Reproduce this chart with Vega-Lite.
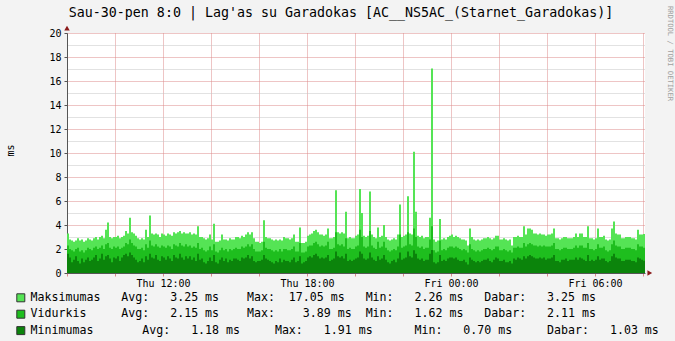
{
  "$schema": "https://vega.github.io/schema/vega-lite/v6.json",
  "width": 578,
  "height": 240,
  "autosize": {"type": "none"},
  "padding": {"left": 67, "top": 33, "right": 30, "bottom": 68},
  "background": "#f3f3f3",
  "title": {
    "text": "Sau-30-pen 8:0 | Lag'as su Garadokas [AC__NS5AC_(Starnet_Garadokas)]",
    "font": "DejaVu Sans Mono", "fontSize": 13.3, "fontWeight": "normal", "color": "#000000",
    "anchor": "middle", "frame": "group", "baseline": "alphabetic", "offset": -24.5, "dx": -15
  },
  "data": {"values": [
    {"t":"2026-01-29T08:00","mx":3.3,"av":2.3,"mn":1.6},{"t":"2026-01-29T08:05","mx":2.8,"av":2.0,"mn":1.3},{"t":"2026-01-29T08:10","mx":2.7,"av":1.9,"mn":0.9},{"t":"2026-01-29T08:15","mx":2.6,"av":1.8,"mn":1.1},{"t":"2026-01-29T08:20","mx":2.7,"av":2.0,"mn":1.4},{"t":"2026-01-29T08:25","mx":2.9,"av":2.1,"mn":1.0},{"t":"2026-01-29T08:30","mx":2.7,"av":1.8,"mn":0.8},{"t":"2026-01-29T08:35","mx":2.8,"av":1.9,"mn":1.2},{"t":"2026-01-29T08:40","mx":2.6,"av":1.7,"mn":0.9},{"t":"2026-01-29T08:45","mx":2.7,"av":1.9,"mn":1.1},{"t":"2026-01-29T08:50","mx":2.9,"av":2.1,"mn":1.3},{"t":"2026-01-29T08:55","mx":2.8,"av":2.0,"mn":1.0},
    {"t":"2026-01-29T09:00","mx":2.7,"av":1.9,"mn":1.1},{"t":"2026-01-29T09:05","mx":2.9,"av":2.1,"mn":1.3},{"t":"2026-01-29T09:10","mx":3.0,"av":2.2,"mn":1.5},{"t":"2026-01-29T09:15","mx":2.8,"av":2.0,"mn":1.0},{"t":"2026-01-29T09:20","mx":3.0,"av":2.1,"mn":1.2},{"t":"2026-01-29T09:25","mx":3.1,"av":2.3,"mn":1.6},{"t":"2026-01-29T09:30","mx":2.9,"av":2.0,"mn":1.1},{"t":"2026-01-29T09:35","mx":3.6,"av":2.4,"mn":1.4},{"t":"2026-01-29T09:40","mx":4.2,"av":2.5,"mn":1.5},{"t":"2026-01-29T09:45","mx":3.0,"av":2.1,"mn":1.2},{"t":"2026-01-29T09:50","mx":2.9,"av":2.0,"mn":0.9},{"t":"2026-01-29T09:55","mx":3.0,"av":2.2,"mn":1.3},
    {"t":"2026-01-29T10:00","mx":3.0,"av":2.1,"mn":1.2},{"t":"2026-01-29T10:05","mx":3.1,"av":2.2,"mn":1.4},{"t":"2026-01-29T10:10","mx":2.9,"av":2.0,"mn":1.0},{"t":"2026-01-29T10:15","mx":3.0,"av":2.1,"mn":1.3},{"t":"2026-01-29T10:20","mx":3.1,"av":2.2,"mn":1.5},{"t":"2026-01-29T10:25","mx":3.5,"av":2.5,"mn":1.6},{"t":"2026-01-29T10:30","mx":3.3,"av":2.4,"mn":1.4},{"t":"2026-01-29T10:35","mx":4.6,"av":2.8,"mn":1.7},{"t":"2026-01-29T10:40","mx":3.4,"av":2.5,"mn":1.5},{"t":"2026-01-29T10:45","mx":3.3,"av":2.3,"mn":1.3},{"t":"2026-01-29T10:50","mx":3.1,"av":2.2,"mn":1.1},{"t":"2026-01-29T10:55","mx":2.9,"av":2.0,"mn":0.9},
    {"t":"2026-01-29T11:00","mx":2.8,"av":2.0,"mn":1.0},{"t":"2026-01-29T11:05","mx":2.9,"av":2.1,"mn":1.2},{"t":"2026-01-29T11:10","mx":2.8,"av":1.9,"mn":0.9},{"t":"2026-01-29T11:15","mx":3.6,"av":2.4,"mn":1.4},{"t":"2026-01-29T11:20","mx":3.0,"av":2.1,"mn":1.1},{"t":"2026-01-29T11:25","mx":4.8,"av":2.7,"mn":1.6},{"t":"2026-01-29T11:30","mx":3.3,"av":2.3,"mn":1.3},{"t":"2026-01-29T11:35","mx":3.2,"av":2.2,"mn":1.2},{"t":"2026-01-29T11:40","mx":3.3,"av":2.4,"mn":1.5},{"t":"2026-01-29T11:45","mx":3.2,"av":2.2,"mn":1.1},{"t":"2026-01-29T11:50","mx":3.0,"av":2.1,"mn":1.0},{"t":"2026-01-29T11:55","mx":3.3,"av":2.3,"mn":1.4},
    {"t":"2026-01-29T12:00","mx":3.2,"av":2.2,"mn":1.3},{"t":"2026-01-29T12:05","mx":3.1,"av":2.1,"mn":1.1},{"t":"2026-01-29T12:10","mx":3.3,"av":2.3,"mn":1.4},{"t":"2026-01-29T12:15","mx":3.2,"av":2.2,"mn":1.2},{"t":"2026-01-29T12:20","mx":3.1,"av":2.0,"mn":1.0},{"t":"2026-01-29T12:25","mx":3.4,"av":2.4,"mn":1.5},{"t":"2026-01-29T12:30","mx":3.3,"av":2.3,"mn":1.3},{"t":"2026-01-29T12:35","mx":3.4,"av":2.2,"mn":1.2},{"t":"2026-01-29T12:40","mx":3.5,"av":2.5,"mn":1.6},{"t":"2026-01-29T12:45","mx":3.3,"av":2.3,"mn":1.3},{"t":"2026-01-29T12:50","mx":3.4,"av":2.2,"mn":1.1},{"t":"2026-01-29T12:55","mx":3.3,"av":2.4,"mn":1.4},
    {"t":"2026-01-29T13:00","mx":3.3,"av":2.2,"mn":1.2},{"t":"2026-01-29T13:05","mx":3.4,"av":2.3,"mn":1.4},{"t":"2026-01-29T13:10","mx":3.2,"av":2.1,"mn":1.1},{"t":"2026-01-29T13:15","mx":3.3,"av":2.2,"mn":1.3},{"t":"2026-01-29T13:20","mx":3.2,"av":2.1,"mn":1.0},{"t":"2026-01-29T13:25","mx":3.9,"av":2.5,"mn":1.6},{"t":"2026-01-29T13:30","mx":3.0,"av":2.0,"mn":1.1},{"t":"2026-01-29T13:35","mx":3.0,"av":2.1,"mn":1.2},{"t":"2026-01-29T13:40","mx":2.9,"av":1.9,"mn":0.9},{"t":"2026-01-29T13:45","mx":2.8,"av":1.8,"mn":0.8},{"t":"2026-01-29T13:50","mx":2.9,"av":1.9,"mn":1.0},{"t":"2026-01-29T13:55","mx":3.2,"av":2.2,"mn":1.3},
    {"t":"2026-01-29T14:00","mx":2.8,"av":1.9,"mn":1.0},{"t":"2026-01-29T14:05","mx":4.1,"av":2.4,"mn":1.5},{"t":"2026-01-29T14:10","mx":2.6,"av":1.8,"mn":0.9},{"t":"2026-01-29T14:15","mx":2.6,"av":1.7,"mn":0.8},{"t":"2026-01-29T14:20","mx":2.7,"av":1.9,"mn":1.1},{"t":"2026-01-29T14:25","mx":3.2,"av":2.1,"mn":1.3},{"t":"2026-01-29T14:30","mx":2.8,"av":1.9,"mn":1.0},{"t":"2026-01-29T14:35","mx":2.8,"av":2.0,"mn":1.2},{"t":"2026-01-29T14:40","mx":2.7,"av":1.8,"mn":0.9},{"t":"2026-01-29T14:45","mx":2.9,"av":2.0,"mn":1.1},{"t":"2026-01-29T14:50","mx":2.8,"av":1.9,"mn":1.0},{"t":"2026-01-29T14:55","mx":2.8,"av":2.0,"mn":1.2},
    {"t":"2026-01-29T15:00","mx":3.0,"av":2.1,"mn":1.2},{"t":"2026-01-29T15:05","mx":3.0,"av":2.0,"mn":1.1},{"t":"2026-01-29T15:10","mx":2.9,"av":2.0,"mn":1.0},{"t":"2026-01-29T15:15","mx":3.1,"av":2.2,"mn":1.3},{"t":"2026-01-29T15:20","mx":3.0,"av":2.1,"mn":1.2},{"t":"2026-01-29T15:25","mx":3.2,"av":2.2,"mn":1.3},{"t":"2026-01-29T15:30","mx":3.4,"av":2.4,"mn":1.5},{"t":"2026-01-29T15:35","mx":3.2,"av":2.2,"mn":1.2},{"t":"2026-01-29T15:40","mx":3.4,"av":2.4,"mn":1.4},{"t":"2026-01-29T15:45","mx":2.9,"av":2.0,"mn":1.0},{"t":"2026-01-29T15:50","mx":2.6,"av":1.8,"mn":0.9},{"t":"2026-01-29T15:55","mx":2.6,"av":1.8,"mn":1.0},
    {"t":"2026-01-29T16:00","mx":2.5,"av":1.8,"mn":1.0},{"t":"2026-01-29T16:05","mx":2.6,"av":1.9,"mn":1.1},{"t":"2026-01-29T16:10","mx":4.4,"av":2.6,"mn":1.5},{"t":"2026-01-29T16:15","mx":3.0,"av":2.1,"mn":1.2},{"t":"2026-01-29T16:20","mx":2.9,"av":2.0,"mn":1.1},{"t":"2026-01-29T16:25","mx":2.9,"av":2.0,"mn":1.0},{"t":"2026-01-29T16:30","mx":2.8,"av":1.9,"mn":0.9},{"t":"2026-01-29T16:35","mx":2.7,"av":1.8,"mn":0.8},{"t":"2026-01-29T16:40","mx":2.8,"av":1.9,"mn":1.0},{"t":"2026-01-29T16:45","mx":2.7,"av":1.8,"mn":0.9},{"t":"2026-01-29T16:50","mx":2.8,"av":2.0,"mn":1.2},{"t":"2026-01-29T16:55","mx":2.7,"av":1.8,"mn":0.9},
    {"t":"2026-01-29T17:00","mx":3.0,"av":2.0,"mn":1.1},{"t":"2026-01-29T17:05","mx":2.9,"av":2.0,"mn":1.0},{"t":"2026-01-29T17:10","mx":2.9,"av":1.9,"mn":1.0},{"t":"2026-01-29T17:15","mx":2.8,"av":1.9,"mn":0.9},{"t":"2026-01-29T17:20","mx":2.9,"av":2.0,"mn":1.1},{"t":"2026-01-29T17:25","mx":3.2,"av":2.2,"mn":1.3},{"t":"2026-01-29T17:30","mx":2.6,"av":1.8,"mn":0.9},{"t":"2026-01-29T17:35","mx":2.6,"av":1.8,"mn":1.0},{"t":"2026-01-29T17:40","mx":3.8,"av":2.5,"mn":1.4},{"t":"2026-01-29T17:45","mx":2.5,"av":1.7,"mn":0.8},{"t":"2026-01-29T17:50","mx":2.5,"av":1.7,"mn":0.9},{"t":"2026-01-29T17:55","mx":2.6,"av":1.8,"mn":1.0},
    {"t":"2026-01-29T18:00","mx":3.1,"av":2.2,"mn":1.3},{"t":"2026-01-29T18:05","mx":3.2,"av":2.3,"mn":1.4},{"t":"2026-01-29T18:10","mx":3.3,"av":2.3,"mn":1.3},{"t":"2026-01-29T18:15","mx":3.5,"av":2.5,"mn":1.5},{"t":"2026-01-29T18:20","mx":3.6,"av":2.6,"mn":1.6},{"t":"2026-01-29T18:25","mx":3.4,"av":2.4,"mn":1.4},{"t":"2026-01-29T18:30","mx":3.2,"av":2.2,"mn":1.2},{"t":"2026-01-29T18:35","mx":3.2,"av":2.3,"mn":1.3},{"t":"2026-01-29T18:40","mx":3.1,"av":2.2,"mn":1.2},{"t":"2026-01-29T18:45","mx":3.2,"av":2.3,"mn":1.3},{"t":"2026-01-29T18:50","mx":3.7,"av":2.6,"mn":1.5},{"t":"2026-01-29T18:55","mx":2.9,"av":2.0,"mn":1.0},
    {"t":"2026-01-29T19:00","mx":2.9,"av":2.0,"mn":1.1},{"t":"2026-01-29T19:05","mx":3.0,"av":2.1,"mn":1.2},{"t":"2026-01-29T19:10","mx":6.9,"av":3.4,"mn":1.8},{"t":"2026-01-29T19:15","mx":3.4,"av":2.4,"mn":1.4},{"t":"2026-01-29T19:20","mx":3.3,"av":2.3,"mn":1.3},{"t":"2026-01-29T19:25","mx":3.4,"av":2.4,"mn":1.4},{"t":"2026-01-29T19:30","mx":3.3,"av":2.2,"mn":1.2},{"t":"2026-01-29T19:35","mx":5.1,"av":2.9,"mn":1.6},{"t":"2026-01-29T19:40","mx":2.9,"av":2.0,"mn":1.0},{"t":"2026-01-29T19:45","mx":3.0,"av":2.1,"mn":1.1},{"t":"2026-01-29T19:50","mx":2.9,"av":2.0,"mn":1.0},{"t":"2026-01-29T19:55","mx":2.9,"av":2.0,"mn":1.1},
    {"t":"2026-01-29T20:00","mx":3.1,"av":2.2,"mn":1.2},{"t":"2026-01-29T20:05","mx":3.2,"av":2.3,"mn":1.3},{"t":"2026-01-29T20:10","mx":7.0,"av":3.6,"mn":1.8},{"t":"2026-01-29T20:15","mx":5.0,"av":3.0,"mn":1.6},{"t":"2026-01-29T20:20","mx":3.1,"av":2.2,"mn":1.2},{"t":"2026-01-29T20:25","mx":3.0,"av":2.1,"mn":1.1},{"t":"2026-01-29T20:30","mx":3.1,"av":2.2,"mn":1.2},{"t":"2026-01-29T20:35","mx":6.8,"av":3.5,"mn":1.7},{"t":"2026-01-29T20:40","mx":3.2,"av":2.3,"mn":1.3},{"t":"2026-01-29T20:45","mx":3.0,"av":2.1,"mn":1.1},{"t":"2026-01-29T20:50","mx":2.9,"av":2.0,"mn":1.0},{"t":"2026-01-29T20:55","mx":3.8,"av":2.6,"mn":1.4},
    {"t":"2026-01-29T21:00","mx":3.0,"av":2.1,"mn":1.1},{"t":"2026-01-29T21:05","mx":3.1,"av":2.2,"mn":1.2},{"t":"2026-01-29T21:10","mx":4.0,"av":2.6,"mn":1.5},{"t":"2026-01-29T21:15","mx":3.0,"av":2.1,"mn":1.1},{"t":"2026-01-29T21:20","mx":2.8,"av":1.9,"mn":0.9},{"t":"2026-01-29T21:25","mx":2.7,"av":1.8,"mn":0.8},{"t":"2026-01-29T21:30","mx":2.8,"av":1.9,"mn":1.0},{"t":"2026-01-29T21:35","mx":2.9,"av":2.0,"mn":1.1},{"t":"2026-01-29T21:40","mx":2.8,"av":1.9,"mn":0.9},{"t":"2026-01-29T21:45","mx":3.2,"av":2.2,"mn":1.2},{"t":"2026-01-29T21:50","mx":5.7,"av":3.2,"mn":1.7},{"t":"2026-01-29T21:55","mx":3.0,"av":2.1,"mn":1.1},
    {"t":"2026-01-29T22:00","mx":3.1,"av":2.2,"mn":1.2},{"t":"2026-01-29T22:05","mx":3.2,"av":2.3,"mn":1.3},{"t":"2026-01-29T22:10","mx":6.4,"av":3.4,"mn":1.8},{"t":"2026-01-29T22:15","mx":3.3,"av":2.4,"mn":1.4},{"t":"2026-01-29T22:20","mx":3.2,"av":2.3,"mn":1.3},{"t":"2026-01-29T22:25","mx":10.1,"av":3.7,"mn":1.9},{"t":"2026-01-29T22:30","mx":5.1,"av":3.0,"mn":1.6},{"t":"2026-01-29T22:35","mx":3.1,"av":2.2,"mn":1.2},{"t":"2026-01-29T22:40","mx":3.0,"av":2.1,"mn":1.1},{"t":"2026-01-29T22:45","mx":3.1,"av":2.2,"mn":1.2},{"t":"2026-01-29T22:50","mx":2.9,"av":2.0,"mn":1.0},{"t":"2026-01-29T22:55","mx":3.0,"av":2.1,"mn":1.1},
    {"t":"2026-01-29T23:00","mx":3.0,"av":2.1,"mn":1.1},{"t":"2026-01-29T23:05","mx":4.6,"av":2.8,"mn":1.6},{"t":"2026-01-29T23:10","mx":17.05,"av":3.89,"mn":1.91},{"t":"2026-01-29T23:15","mx":2.8,"av":1.9,"mn":0.9},{"t":"2026-01-29T23:20","mx":2.6,"av":1.7,"mn":0.8},{"t":"2026-01-29T23:25","mx":2.7,"av":1.8,"mn":0.9},{"t":"2026-01-29T23:30","mx":4.5,"av":2.7,"mn":1.5},{"t":"2026-01-29T23:35","mx":2.8,"av":1.9,"mn":1.0},{"t":"2026-01-29T23:40","mx":2.9,"av":2.0,"mn":1.1},{"t":"2026-01-29T23:45","mx":2.8,"av":1.9,"mn":1.0},{"t":"2026-01-29T23:50","mx":3.0,"av":2.1,"mn":1.2},{"t":"2026-01-29T23:55","mx":3.1,"av":2.2,"mn":1.3},
    {"t":"2026-01-30T00:00","mx":3.2,"av":2.2,"mn":1.3},{"t":"2026-01-30T00:05","mx":3.0,"av":2.1,"mn":1.2},{"t":"2026-01-30T00:10","mx":3.1,"av":2.2,"mn":1.3},{"t":"2026-01-30T00:15","mx":3.0,"av":2.1,"mn":1.1},{"t":"2026-01-30T00:20","mx":2.9,"av":2.0,"mn":1.0},{"t":"2026-01-30T00:25","mx":2.8,"av":1.9,"mn":1.0},{"t":"2026-01-30T00:30","mx":2.8,"av":2.0,"mn":1.1},{"t":"2026-01-30T00:35","mx":2.7,"av":1.9,"mn":0.9},{"t":"2026-01-30T00:40","mx":2.3,"av":1.7,"mn":0.7},{"t":"2026-01-30T00:45","mx":3.7,"av":2.4,"mn":1.3},{"t":"2026-01-30T00:50","mx":3.0,"av":2.0,"mn":1.1},{"t":"2026-01-30T00:55","mx":2.8,"av":1.9,"mn":1.0},
    {"t":"2026-01-30T01:00","mx":2.7,"av":1.8,"mn":0.9},{"t":"2026-01-30T01:05","mx":2.8,"av":1.9,"mn":1.0},{"t":"2026-01-30T01:10","mx":2.7,"av":1.8,"mn":0.9},{"t":"2026-01-30T01:15","mx":2.8,"av":1.9,"mn":1.0},{"t":"2026-01-30T01:20","mx":2.9,"av":2.0,"mn":1.1},{"t":"2026-01-30T01:25","mx":2.9,"av":2.0,"mn":1.1},{"t":"2026-01-30T01:30","mx":3.0,"av":2.1,"mn":1.2},{"t":"2026-01-30T01:35","mx":2.9,"av":2.0,"mn":1.0},{"t":"2026-01-30T01:40","mx":2.8,"av":1.9,"mn":0.9},{"t":"2026-01-30T01:45","mx":2.9,"av":2.0,"mn":1.1},{"t":"2026-01-30T01:50","mx":3.1,"av":2.2,"mn":1.3},{"t":"2026-01-30T01:55","mx":3.1,"av":2.2,"mn":1.2},
    {"t":"2026-01-30T02:00","mx":2.8,"av":1.9,"mn":1.0},{"t":"2026-01-30T02:05","mx":2.8,"av":1.9,"mn":1.0},{"t":"2026-01-30T02:10","mx":2.9,"av":2.0,"mn":1.1},{"t":"2026-01-30T02:15","mx":2.8,"av":1.9,"mn":0.9},{"t":"2026-01-30T02:20","mx":2.7,"av":1.8,"mn":0.9},{"t":"2026-01-30T02:25","mx":2.8,"av":1.9,"mn":1.0},{"t":"2026-01-30T02:30","mx":2.3,"av":1.7,"mn":0.8},{"t":"2026-01-30T02:35","mx":3.0,"av":2.1,"mn":1.2},{"t":"2026-01-30T02:40","mx":3.0,"av":2.1,"mn":1.1},{"t":"2026-01-30T02:45","mx":3.1,"av":2.2,"mn":1.3},{"t":"2026-01-30T02:50","mx":3.0,"av":2.1,"mn":1.2},{"t":"2026-01-30T02:55","mx":3.0,"av":2.1,"mn":1.1},
    {"t":"2026-01-30T03:00","mx":3.9,"av":2.5,"mn":1.4},{"t":"2026-01-30T03:05","mx":3.2,"av":2.2,"mn":1.2},{"t":"2026-01-30T03:10","mx":3.7,"av":2.4,"mn":1.4},{"t":"2026-01-30T03:15","mx":3.7,"av":2.5,"mn":1.5},{"t":"2026-01-30T03:20","mx":3.6,"av":2.4,"mn":1.4},{"t":"2026-01-30T03:25","mx":3.3,"av":2.3,"mn":1.3},{"t":"2026-01-30T03:30","mx":3.3,"av":2.3,"mn":1.2},{"t":"2026-01-30T03:35","mx":3.2,"av":2.2,"mn":1.2},{"t":"2026-01-30T03:40","mx":3.3,"av":2.3,"mn":1.3},{"t":"2026-01-30T03:45","mx":3.2,"av":2.2,"mn":1.2},{"t":"2026-01-30T03:50","mx":3.2,"av":2.3,"mn":1.3},{"t":"2026-01-30T03:55","mx":3.1,"av":2.2,"mn":1.1},
    {"t":"2026-01-30T04:00","mx":3.2,"av":2.2,"mn":1.2},{"t":"2026-01-30T04:05","mx":3.2,"av":2.2,"mn":1.2},{"t":"2026-01-30T04:10","mx":3.3,"av":2.3,"mn":1.3},{"t":"2026-01-30T04:15","mx":3.7,"av":2.5,"mn":1.5},{"t":"2026-01-30T04:20","mx":2.9,"av":2.0,"mn":1.0},{"t":"2026-01-30T04:25","mx":2.9,"av":2.0,"mn":1.0},{"t":"2026-01-30T04:30","mx":2.8,"av":1.9,"mn":0.9},{"t":"2026-01-30T04:35","mx":2.9,"av":2.0,"mn":1.1},{"t":"2026-01-30T04:40","mx":3.0,"av":2.1,"mn":1.1},{"t":"2026-01-30T04:45","mx":3.0,"av":2.1,"mn":1.2},{"t":"2026-01-30T04:50","mx":2.9,"av":2.0,"mn":1.0},{"t":"2026-01-30T04:55","mx":2.9,"av":2.0,"mn":1.1},
    {"t":"2026-01-30T05:00","mx":2.9,"av":2.0,"mn":1.1},{"t":"2026-01-30T05:05","mx":3.0,"av":2.1,"mn":1.1},{"t":"2026-01-30T05:10","mx":3.3,"av":2.3,"mn":1.3},{"t":"2026-01-30T05:15","mx":3.0,"av":2.1,"mn":1.1},{"t":"2026-01-30T05:20","mx":3.3,"av":2.3,"mn":1.3},{"t":"2026-01-30T05:25","mx":3.3,"av":2.3,"mn":1.2},{"t":"2026-01-30T05:30","mx":3.0,"av":2.1,"mn":1.1},{"t":"2026-01-30T05:35","mx":3.0,"av":2.1,"mn":1.0},{"t":"2026-01-30T05:40","mx":3.9,"av":2.5,"mn":1.5},{"t":"2026-01-30T05:45","mx":2.9,"av":2.0,"mn":1.0},{"t":"2026-01-30T05:50","mx":2.9,"av":2.0,"mn":1.1},{"t":"2026-01-30T05:55","mx":2.8,"av":1.9,"mn":1.0},
    {"t":"2026-01-30T06:00","mx":2.9,"av":2.0,"mn":1.1},{"t":"2026-01-30T06:05","mx":3.7,"av":2.4,"mn":1.4},{"t":"2026-01-30T06:10","mx":3.0,"av":2.1,"mn":1.1},{"t":"2026-01-30T06:15","mx":3.0,"av":2.1,"mn":1.2},{"t":"2026-01-30T06:20","mx":3.1,"av":2.2,"mn":1.2},{"t":"2026-01-30T06:25","mx":2.8,"av":1.9,"mn":1.0},{"t":"2026-01-30T06:30","mx":2.7,"av":1.8,"mn":0.9},{"t":"2026-01-30T06:35","mx":2.8,"av":1.9,"mn":1.0},{"t":"2026-01-30T06:40","mx":3.7,"av":2.4,"mn":1.4},{"t":"2026-01-30T06:45","mx":4.3,"av":2.7,"mn":1.6},{"t":"2026-01-30T06:50","mx":3.3,"av":2.3,"mn":1.3},{"t":"2026-01-30T06:55","mx":3.2,"av":2.2,"mn":1.2},
    {"t":"2026-01-30T07:00","mx":3.2,"av":2.2,"mn":1.2},{"t":"2026-01-30T07:05","mx":2.9,"av":2.0,"mn":1.0},{"t":"2026-01-30T07:10","mx":2.9,"av":2.0,"mn":1.0},{"t":"2026-01-30T07:15","mx":3.0,"av":2.1,"mn":1.1},{"t":"2026-01-30T07:20","mx":3.0,"av":2.1,"mn":1.1},{"t":"2026-01-30T07:25","mx":3.0,"av":2.1,"mn":1.1},{"t":"2026-01-30T07:30","mx":2.9,"av":2.0,"mn":1.0},{"t":"2026-01-30T07:35","mx":2.9,"av":2.0,"mn":1.0},{"t":"2026-01-30T07:40","mx":2.8,"av":1.9,"mn":0.9},{"t":"2026-01-30T07:45","mx":3.6,"av":2.4,"mn":1.3},{"t":"2026-01-30T07:50","mx":3.2,"av":2.2,"mn":1.2},{"t":"2026-01-30T07:55","mx":3.2,"av":2.2,"mn":1.1},
    {"t":"2026-01-30T08:00","mx":3.25,"av":2.11,"mn":1.03},{"t":"2026-01-30T08:05","mx":3.25,"av":2.11,"mn":1.03}
  ]},
  "layer": [
    {
      "mark": {"type": "area", "interpolate": "step-after", "opacity": 1},
      "encoding": {
        "x": {
          "field": "t", "type": "temporal",
          "scale": {"domain": [{"year": 2026, "month": "jan", "date": 29, "hours": 8}, {"year": 2026, "month": "jan", "date": 30, "hours": 8, "minutes": 5}]},
          "axis": {
            "title": null,
            "values": [
              {"year":2026,"month":"jan","date":29,"hours":8,"minutes":0},{"year":2026,"month":"jan","date":29,"hours":8,"minutes":30},
              {"year":2026,"month":"jan","date":29,"hours":9,"minutes":0},{"year":2026,"month":"jan","date":29,"hours":9,"minutes":30},
              {"year":2026,"month":"jan","date":29,"hours":10,"minutes":0},{"year":2026,"month":"jan","date":29,"hours":10,"minutes":30},
              {"year":2026,"month":"jan","date":29,"hours":11,"minutes":0},{"year":2026,"month":"jan","date":29,"hours":11,"minutes":30},
              {"year":2026,"month":"jan","date":29,"hours":12,"minutes":0},{"year":2026,"month":"jan","date":29,"hours":12,"minutes":30},
              {"year":2026,"month":"jan","date":29,"hours":13,"minutes":0},{"year":2026,"month":"jan","date":29,"hours":13,"minutes":30},
              {"year":2026,"month":"jan","date":29,"hours":14,"minutes":0},{"year":2026,"month":"jan","date":29,"hours":14,"minutes":30},
              {"year":2026,"month":"jan","date":29,"hours":15,"minutes":0},{"year":2026,"month":"jan","date":29,"hours":15,"minutes":30},
              {"year":2026,"month":"jan","date":29,"hours":16,"minutes":0},{"year":2026,"month":"jan","date":29,"hours":16,"minutes":30},
              {"year":2026,"month":"jan","date":29,"hours":17,"minutes":0},{"year":2026,"month":"jan","date":29,"hours":17,"minutes":30},
              {"year":2026,"month":"jan","date":29,"hours":18,"minutes":0},{"year":2026,"month":"jan","date":29,"hours":18,"minutes":30},
              {"year":2026,"month":"jan","date":29,"hours":19,"minutes":0},{"year":2026,"month":"jan","date":29,"hours":19,"minutes":30},
              {"year":2026,"month":"jan","date":29,"hours":20,"minutes":0},{"year":2026,"month":"jan","date":29,"hours":20,"minutes":30},
              {"year":2026,"month":"jan","date":29,"hours":21,"minutes":0},{"year":2026,"month":"jan","date":29,"hours":21,"minutes":30},
              {"year":2026,"month":"jan","date":29,"hours":22,"minutes":0},{"year":2026,"month":"jan","date":29,"hours":22,"minutes":30},
              {"year":2026,"month":"jan","date":29,"hours":23,"minutes":0},{"year":2026,"month":"jan","date":29,"hours":23,"minutes":30},
              {"year":2026,"month":"jan","date":30,"hours":0,"minutes":0},{"year":2026,"month":"jan","date":30,"hours":0,"minutes":30},
              {"year":2026,"month":"jan","date":30,"hours":1,"minutes":0},{"year":2026,"month":"jan","date":30,"hours":1,"minutes":30},
              {"year":2026,"month":"jan","date":30,"hours":2,"minutes":0},{"year":2026,"month":"jan","date":30,"hours":2,"minutes":30},
              {"year":2026,"month":"jan","date":30,"hours":3,"minutes":0},{"year":2026,"month":"jan","date":30,"hours":3,"minutes":30},
              {"year":2026,"month":"jan","date":30,"hours":4,"minutes":0},{"year":2026,"month":"jan","date":30,"hours":4,"minutes":30},
              {"year":2026,"month":"jan","date":30,"hours":5,"minutes":0},{"year":2026,"month":"jan","date":30,"hours":5,"minutes":30},
              {"year":2026,"month":"jan","date":30,"hours":6,"minutes":0},{"year":2026,"month":"jan","date":30,"hours":6,"minutes":30},
              {"year":2026,"month":"jan","date":30,"hours":7,"minutes":0},{"year":2026,"month":"jan","date":30,"hours":7,"minutes":30},
              {"year":2026,"month":"jan","date":30,"hours":8,"minutes":0}
            ],
            "labelExpr": "minutes(datum.value) == 0 && hours(datum.value) % 6 == 0 ? timeFormat(datum.value, '%a %H:%M') : ''",
            "labelOverlap": false, "labelFlush": false, "labelBound": false,
            "labelFont": "DejaVu Sans Mono", "labelFontSize": 10, "labelColor": "#000000", "labelPadding": 2,
            "domainColor": "#555555",
            "tickSize": 3,
            "tickColor": {"condition": {"test": "minutes(datum.value) == 0 && hours(datum.value) % 2 == 0", "value": "#d98a8a"}, "value": "#c4c4c4"},
            "grid": true,
            "gridDash": [1, 1],
            "gridColor": {"condition": {"test": "minutes(datum.value) == 0 && hours(datum.value) % 2 == 0", "value": "#dc8a8a"}, "value": "#c4c4c4"}
          }
        },
        "y": {
          "field": "mx", "type": "quantitative",
          "scale": {"domain": [0, 20], "nice": false},
          "axis": {
            "title": "ms", "titleX": -57, "titleY": 117, "titleAngle": -90, "titleAlign": "center", "titleBaseline": "middle",
            "titleFont": "DejaVu Sans Mono", "titleFontSize": 10, "titleFontWeight": "normal", "titleColor": "#000000",
            "values": [0,0.5,1,1.5,2,2.5,3,3.5,4,4.5,5,5.5,6,6.5,7,7.5,8,8.5,9,9.5,10,10.5,11,11.5,12,12.5,13,13.5,14,14.5,15,15.5,16,16.5,17,17.5,18,18.5,19,19.5,20],
            "format": "d",
            "labelExpr": "datum.value % 2 == 0 ? datum.label : ''",
            "labelOverlap": false, "labelFont": "DejaVu Sans Mono", "labelFontSize": 10, "labelColor": "#000000", "labelPadding": 3,
            "domainColor": "#555555",
            "tickSize": 3,
            "tickColor": {"condition": {"test": "datum.value % 2 == 0", "value": "#555555"}, "value": "transparent"},
            "grid": true,
            "gridDash": [1, 1],
            "gridColor": {"condition": {"test": "datum.value % 2 == 0", "value": "#dc8a8a"}, "value": "#c4c4c4"}
          }
        },
        "color": {
          "datum": "Maksimumas",
          "scale": {"domain": ["Maksimumas", "Vidurkis", "Minimumas"], "range": ["#55e455", "#1ebe1e", "#0b840b"]},
          "legend": {
            "title": null, "orient": "none", "legendX": -52, "legendY": 259, "direction": "vertical",
            "padding": 0, "symbolType": "square", "symbolSize": 64, "symbolStrokeColor": "#333333", "symbolStrokeWidth": 1, "symbolOpacity": 1,
            "labelFont": "DejaVu Sans Mono", "labelFontSize": 11.6, "labelColor": "#000000", "labelLimit": 1000, "labelOffset": 4, "rowPadding": 3.4,
            "labelExpr": "replace(datum.label == 'Maksimumas' ? 'Maksimumas~~~Avg:~~~3.25~ms~~~~Max:~~17.05~ms~~~Min:~~~2.26~ms~~~Dabar:~~~3.25~ms' : datum.label == 'Vidurkis' ? 'Vidurkis~~~~~Avg:~~~2.15~ms~~~~Max:~~~~3.89~ms~~Min:~~~1.62~ms~~~Dabar:~~~2.11~ms' : 'Minimumas~~~~~~~Avg:~~~1.18~ms~~~~~Max:~~~1.91~ms~~~~~~Min:~~~0.70~ms~~~~~Dabar:~~~1.03~ms', regexp('~', 'g'), '\u00a0')"
          }
        }
      }
    },
    {
      "mark": {"type": "area", "interpolate": "step-after", "opacity": 1},
      "encoding": {
        "x": {"field": "t", "type": "temporal"},
        "y": {
          "field": "av", "type": "quantitative",
          "axis": {
            "orient": "right", "labels": false, "ticks": false, "domain": false, "grid": false,
            "title": "RRDTOOL / TOBI OETIKER", "titleAngle": 90, "titleX": 24, "titleY": 20, "titleAlign": "center", "titleBaseline": "middle",
            "titleFont": "DejaVu Sans Mono", "titleFontSize": 7.2, "titleFontWeight": "normal", "titleColor": "#a0a0a0"
          }
        },
        "color": {"datum": "Vidurkis"}
      }
    },
    {
      "mark": {"type": "area", "interpolate": "step-after", "opacity": 1},
      "encoding": {
        "x": {"field": "t", "type": "temporal"},
        "y": {"field": "mn", "type": "quantitative", "axis": null},
        "color": {"datum": "Minimumas"}
      }
    },
    {
      "data": {"values": [{}]},
      "mark": {"type": "point", "shape": "triangle-up", "filled": true, "size": 30, "color": "#8b1a1a", "opacity": 1},
      "encoding": {
        "x": {"datum": {"year": 2026, "month": "jan", "date": 29, "hours": 8}, "type": "temporal"},
        "y": {"datum": 20.4, "type": "quantitative", "axis": null}
      }
    },
    {
      "data": {"values": [{}]},
      "mark": {"type": "point", "shape": "triangle-right", "filled": true, "size": 30, "color": "#8b1a1a", "opacity": 1},
      "encoding": {
        "x": {"datum": {"year": 2026, "month": "jan", "date": 30, "hours": 8, "minutes": 17}, "type": "temporal"},
        "y": {"datum": 0, "type": "quantitative", "axis": null}
      }
    }
  ],
  "resolve": {"axis": {"y": "independent"}},
  "config": {
    "view": {"fill": "#ffffff", "stroke": null},
    "font": "DejaVu Sans Mono"
  }
}
